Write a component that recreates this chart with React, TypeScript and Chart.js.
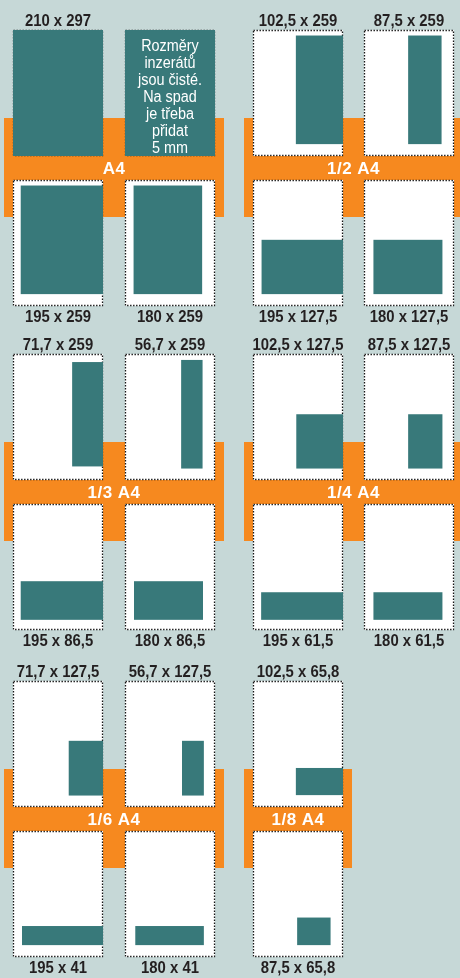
import { useEffect, useRef } from "react";
import { Chart, registerables } from "chart.js";

Chart.register(...registerables);

// ---- data ----
const groupNames = ["A4", "1/2 A4", "1/3 A4", "1/4 A4", "1/6 A4", "1/8 A4"];
const pagesPerGroup = [4, 4, 4, 4, 4, 2];
const sizeLabels = [
  "210 x 297", "", "195 x 259", "180 x 259",
  "102,5 x 259", "87,5 x 259", "195 x 127,5", "180 x 127,5",
  "71,7 x 259", "56,7 x 259", "195 x 86,5", "180 x 86,5",
  "102,5 x 127,5", "87,5 x 127,5", "195 x 61,5", "180 x 61,5",
  "71,7 x 127,5", "56,7 x 127,5", "195 x 41", "180 x 41",
  "102,5 x 65,8", "87,5 x 65,8",
];
// ad extents inside a 210 x 297 mm page, as drawn
const adLeftMm = [0, 0, 18, 20, 100, 103, 20, 22, 138, 131, 18, 21, 101, 103, 19, 22, 130, 133, 21, 24, 100, 103];
const adRightMm = [210, 210, 210, 180, 210, 181, 210, 183, 210, 181, 210, 182, 210, 183, 210, 183, 210, 184, 210, 184, 210, 181];
const adTopMm = [0, 0, 13, 13, 13, 13, 141, 141, 19, 14, 182, 182, 142, 142, 208, 208, 141, 141, 224, 224, 205, 204];
const adBottomMm = [297, 297, 269, 269, 269, 269, 269, 269, 265, 270, 273, 273, 270, 270, 273, 273, 270, 270, 269, 269, 269, 269];
const noteLines = ["Rozměry", "inzerátů", "jsou čisté.", "Na spad", "je třeba", "přidat", "5 mm"];
const NOTE_PAGE = 1;

// ---- layout / style ----
const W = 460;
const H = 978;
const PAGE_MM_W = 210;
const PAGE_MM_H = 297;
const PAGE_W = 90;
const PAGE_H = 126;
const ROW_TOPS = [30, 354, 681];
const COL_X = [
  [13, 125],
  [253, 364],
];
const BOTTOM_OFFSET = 150;
const BAND_TOP = 88;
const BAND_BOTTOM = 187;
const BAND_SIDE = 9;

const BG = "#c6d8d7";
const TEAL = "#38797a";
const ORANGE = "#f6891f";
const TEXT = "#231f20";
const FONT = "'Liberation Sans', Arial, Helvetica, sans-serif";

function scaledText(
  ctx: CanvasRenderingContext2D,
  text: string,
  x: number,
  y: number,
  font: string,
  color: string,
  sx: number,
  spacing = "0px"
) {
  ctx.save();
  ctx.translate(x, y);
  ctx.scale(sx, 1);
  ctx.font = font;
  (ctx as any).letterSpacing = spacing;
  ctx.fillStyle = color;
  ctx.textAlign = "center";
  ctx.textBaseline = "alphabetic";
  ctx.fillText(text, 0, 0);
  ctx.restore();
}

const layoutPlugin = {
  id: "adLayout",
  afterDraw(chart: any) {
    const ctx: CanvasRenderingContext2D = chart.ctx;
    const xs = chart.scales.x;
    const ys = chart.scales.y;
    const px = (v: number) => xs.getPixelForValue(v);
    const py = (v: number) => ys.getPixelForValue(v);

    ctx.save();
    ctx.fillStyle = BG;
    ctx.fillRect(px(0), py(0), px(W) - px(0), py(H) - py(0));

    let pageIndex = 0;
    groupNames.forEach((name, g) => {
      const row = Math.floor(g / 2);
      const col = g % 2;
      const n = pagesPerGroup[g];
      const ncols = n / 2;
      const top = ROW_TOPS[row];
      const xs0 = COL_X[col].slice(0, ncols);
      const left = xs0[0];
      const right = xs0[ncols - 1] + PAGE_W;

      // orange band
      const bl = Math.max(0, left - BAND_SIDE);
      const br = Math.min(W, right + BAND_SIDE);
      ctx.fillStyle = ORANGE;
      ctx.fillRect(px(bl), py(top + BAND_TOP), px(br) - px(bl), py(top + BAND_BOTTOM) - py(top + BAND_TOP));

      for (let k = 0; k < n; k++) {
        const r = Math.floor(k / ncols);
        const c = k % ncols;
        const x0 = xs0[c];
        const y0 = top + r * BOTTOM_OFFSET;
        const i = pageIndex + k;

        // page
        const l = px(x0), t = py(y0), w = px(x0 + PAGE_W) - l, h = py(y0 + PAGE_H) - t;
        ctx.fillStyle = "#ffffff";
        ctx.fillRect(l, t, w, h);
        ctx.save();
        ctx.strokeStyle = "#151515";
        ctx.lineWidth = 1.3;
        ctx.setLineDash([1.4, 1.6]);
        ctx.strokeRect(Math.round(l) + 0.5, Math.round(t) + 0.5, Math.round(w) - 1, Math.round(h) - 1);
        ctx.restore();

        // ad
        const ax0 = x0 + (adLeftMm[i] / PAGE_MM_W) * PAGE_W;
        const ax1 = x0 + (adRightMm[i] / PAGE_MM_W) * PAGE_W;
        const ay0 = y0 + (adTopMm[i] / PAGE_MM_H) * PAGE_H;
        const ay1 = y0 + (adBottomMm[i] / PAGE_MM_H) * PAGE_H;
        ctx.fillStyle = TEAL;
        ctx.fillRect(px(ax0), py(ay0), px(ax1) - px(ax0), py(ay1) - py(ay0));

        // labels
        const cx = px(x0 + PAGE_W / 2);
        if (sizeLabels[i]) {
          const ly = r === 0 ? py(y0 - 4) : py(y0 + PAGE_H + 16);
          scaledText(ctx, sizeLabels[i], cx, ly, `bold 16px ${FONT}`, TEXT, 0.93);
        }
        if (i === NOTE_PAGE) {
          noteLines.forEach((line, j) => {
            scaledText(ctx, line, cx, py(y0 + 21 + j * 17), `16px ${FONT}`, "#ffffff", 0.9);
          });
        }
      }

      // band label
      scaledText(
        ctx,
        name,
        px((left + right) / 2),
        py(top + 144),
        `bold 17px ${FONT}`,
        "#ffffff",
        1,
        "0.5px"
      );
      pageIndex += n;
    });
    ctx.restore();
  },
};

export default function App() {
  const ref = useRef<HTMLCanvasElement | null>(null);
  useEffect(() => {
    document.body.style.margin = "0";
    const canvas = ref.current!;
    const chart = new Chart(canvas, {
      type: "scatter",
      data: { datasets: [] },
      options: {
        animation: false,
        responsive: false,
        maintainAspectRatio: false,
        layout: { padding: 0 },
        events: [],
        plugins: { legend: { display: false }, tooltip: { enabled: false }, title: { display: false } },
        scales: {
          x: { type: "linear", min: 0, max: W, display: false },
          y: { type: "linear", min: 0, max: H, reverse: true, display: false },
        },
      },
      plugins: [layoutPlugin],
    });
    return () => chart.destroy();
  }, []);
  return (
    <div style={{ width: W, height: H, background: BG, overflow: "hidden" }}>
      <canvas ref={ref} width={W} height={H} style={{ display: "block", width: W, height: H }} />
    </div>
  );
}
